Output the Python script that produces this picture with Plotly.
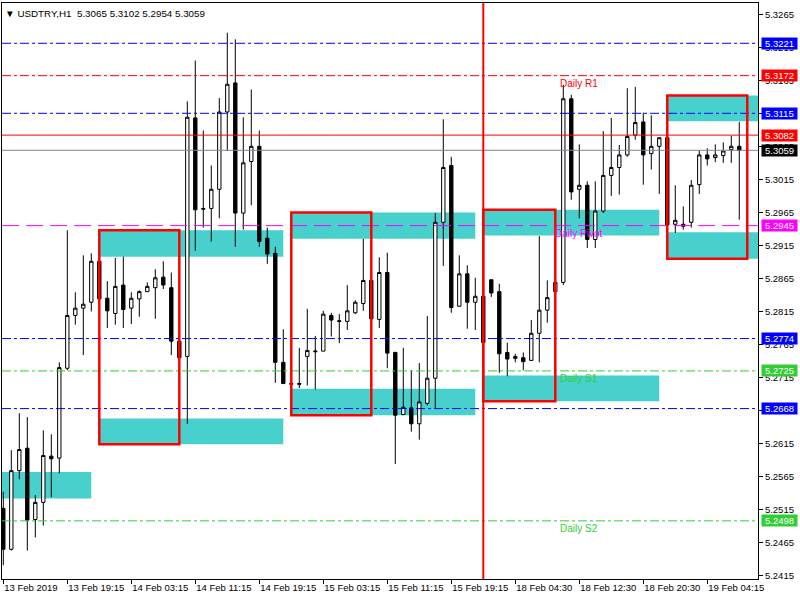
import plotly.graph_objects as go

# ---------------- data ----------------
bar_index = list(range(93))
opens = [5.2517, 5.2455, 5.2574, 5.2608, 5.2500, 5.2526, 5.2596, 5.2593, 5.2729, 5.2809,
         5.2820, 5.2829, 5.2891, 5.2835, 5.2812, 5.2855, 5.2820, 5.2834, 5.2845, 5.2851,
         5.2867, 5.2851, 5.2770, 5.2747, 5.3108, 5.2971, 5.2971, 5.3000, 5.3117, 5.3161,
         5.2964, 5.3042, 5.3065, 5.2926, 5.2903, 5.2738, 5.2706, 5.2706, 5.2747, 5.2754,
         5.2755, 5.2809, 5.2801, 5.2800, 5.2813, 5.2827, 5.2862, 5.2803, 5.2874, 5.2753,
         5.2659, 5.2669, 5.2645, 5.2676, 5.2714, 5.2950, 5.3036, 5.2823, 5.2872, 5.2829,
         5.2838, 5.2863, 5.2845, 5.2753, 5.2744, 5.2745, 5.2741, 5.2782, 5.2817, 5.2845,
         5.2859, 5.3137, 5.3000, 5.3006, 5.2924, 5.2967, 5.3021, 5.3033, 5.3052, 5.3082,
         5.3102, 5.3054, 5.3065, 5.3078, 5.2947, 5.2947, 5.2950, 5.3007, 5.3052, 5.3048,
         5.3051, 5.3060, 5.3065]
highs = [5.2542, 5.2605, 5.2661, 5.2655, 5.2537, 5.2635, 5.2629, 5.2738, 5.2938, 5.2844,
         5.2900, 5.2903, 5.2892, 5.2861, 5.2896, 5.2898, 5.2844, 5.2847, 5.2859, 5.2879,
         5.2891, 5.2874, 5.2771, 5.3133, 5.3195, 5.3089, 5.3036, 5.3138, 5.3237, 5.3227,
         5.3109, 5.3151, 5.3089, 5.2942, 5.2913, 5.2788, 5.2707, 5.2760, 5.2819, 5.2778,
         5.2816, 5.2813, 5.2811, 5.2855, 5.2832, 5.2925, 5.2863, 5.2897, 5.2904, 5.2754,
         5.2760, 5.2726, 5.2737, 5.2808, 5.2964, 5.3106, 5.3049, 5.2900, 5.2885, 5.2866,
         5.2839, 5.2863, 5.2857, 5.2768, 5.2751, 5.2753, 5.2802, 5.2929, 5.2862, 5.2861,
         5.3158, 5.3143, 5.3068, 5.3012, 5.3012, 5.3088, 5.3108, 5.3067, 5.3153, 5.3155,
         5.3116, 5.3112, 5.3079, 5.3079, 5.3006, 5.2974, 5.3014, 5.3059, 5.3062, 5.3068,
         5.3071, 5.3081, 5.3102]
lows = [5.2431, 5.2453, 5.2561, 5.2453, 5.2473, 5.2491, 5.2534, 5.2570, 5.2726, 5.2795,
        5.2749, 5.2815, 5.2833, 5.2790, 5.2795, 5.2790, 5.2796, 5.2807, 5.2845, 5.2804,
        5.2849, 5.2749, 5.2744, 5.2645, 5.2907, 5.2942, 5.2921, 5.2956, 5.3058, 5.2913,
        5.2939, 5.2976, 5.2913, 5.2887, 5.2707, 5.2705, 5.2705, 5.2699, 5.2703, 5.2697,
        5.2755, 5.2777, 5.2767, 5.2787, 5.2811, 5.2816, 5.2803, 5.2790, 5.2729, 5.2584,
        5.2658, 5.2633, 5.2621, 5.2673, 5.2669, 5.2884, 5.2813, 5.2822, 5.2789, 5.2787,
        5.2767, 5.2837, 5.2722, 5.2717, 5.2738, 5.2726, 5.2740, 5.2738, 5.2798, 5.2845,
        5.2855, 5.2984, 5.2956, 5.2911, 5.2911, 5.2964, 5.2990, 5.2992, 5.3049, 5.3075,
        5.3007, 5.3030, 5.2993, 5.2945, 5.2934, 5.2939, 5.2942, 5.2993, 5.3036, 5.3041,
        5.3040, 5.3040, 5.2954]
closes = [5.2455, 5.2574, 5.2606, 5.2499, 5.2526, 5.2597, 5.2592, 5.2730, 5.2809, 5.2820,
          5.2826, 5.2891, 5.2834, 5.2816, 5.2853, 5.2818, 5.2835, 5.2845, 5.2853, 5.2866,
          5.2855, 5.2770, 5.2745, 5.3109, 5.2969, 5.2970, 5.3000, 5.3117, 5.3159, 5.2964,
          5.3040, 5.3065, 5.2921, 5.2902, 5.2738, 5.2706, 5.2705, 5.2705, 5.2756, 5.2755,
          5.2811, 5.2802, 5.2800, 5.2816, 5.2829, 5.2862, 5.2804, 5.2874, 5.2752, 5.2658,
          5.2670, 5.2645, 5.2678, 5.2714, 5.2950, 5.3033, 5.2821, 5.2872, 5.2829, 5.2838,
          5.2768, 5.2843, 5.2751, 5.2743, 5.2747, 5.2739, 5.2782, 5.2817, 5.2836, 5.2859,
          5.3137, 5.2996, 5.3006, 5.2924, 5.2967, 5.3021, 5.3033, 5.3052, 5.3080, 5.3101,
          5.3052, 5.3065, 5.3078, 5.2946, 5.2953, 5.2944, 5.3006, 5.3052, 5.3046, 5.3052,
          5.3058, 5.3065, 5.3059]

tick_index = [0, 8, 16, 24, 32, 40, 48, 56, 64, 72, 80, 88]
tick_labels = ["13 Feb 2019", "13 Feb 19:15", "14 Feb 03:15", "14 Feb 11:15",
               "14 Feb 19:15", "15 Feb 03:15", "15 Feb 11:15", "15 Feb 19:15",
               "18 Feb 04:30", "18 Feb 12:30", "18 Feb 20:30", "19 Feb 04:15"]

level_prices = [5.3221, 5.3172, 5.3115, 5.3082, 5.3059, 5.2945, 5.2774, 5.2725, 5.2668, 5.2498]
level_colors = ["#0000FF", "#FF0000", "#0000FF", "#FF0000", "#778899",
                "#FF00FF", "#0000FF", "#32CD32", "#0000FF", "#32CD32"]
level_label_bg = ["#0000FF", "#FF0000", "#0000FF", "#FF0000", "#000000",
                  "#FF00FF", "#0000FF", "#32CD32", "#0000FF", "#32CD32"]
level_dash = ["9px,3px,3px,3px", "9px,3px,3px,3px", "9px,3px,3px,3px", "solid", "solid",
              "17px,7px", "9px,3px,3px,3px", "9px,3px,3px,3px", "9px,3px,3px,3px",
              "9px,3px,3px,3px"]

pivot_names = ["Daily R1", "Daily Pivot", "Daily S1", "Daily S2"]
pivot_prices = [5.3172, 5.2945, 5.2725, 5.2498]
pivot_colors = ["#FF0000", "#FF00FF", "#32CD32", "#32CD32"]
pivot_x = [69.5, 68.85, 69.5, 69.5]

zone_start = [12, 36, 60, 83]
zone_end = [22, 46, 69, 93]
zone_top = [5.2938, 5.2965, 5.2969, 5.3142]
zone_bottom = [5.2614, 5.2658, 5.2679, 5.2895]

box_start = [-3, 12, 12, 36, 36, 60, 60, 83, 83]
box_end = [11, 35, 35, 59, 59, 82, 82, 97, 97]
box_top = [5.2572, 5.2938, 5.2653, 5.2965, 5.2698, 5.2969, 5.2718, 5.3142, 5.2935]
box_bottom = [5.2532, 5.2898, 5.2614, 5.2925, 5.2658, 5.2930, 5.2679, 5.3103, 5.2895]

separator_bar = 60
title_text = "\u25BC USDTRY,H1\u00a0\u00a05.3065 5.3102 5.2954 5.3059"

FONT = "Liberation Sans, Arial, sans-serif"

# ---------------- figure ----------------
fig = go.Figure()
fig.add_trace(go.Candlestick(
    x=bar_index, open=opens, high=highs, low=lows, close=closes,
    increasing=dict(line=dict(color="black", width=1), fillcolor="white"),
    decreasing=dict(line=dict(color="black", width=1), fillcolor="black"),
    whiskerwidth=0, showlegend=False, hoverinfo="skip",
))

shapes = []
for x0, x1, t, b in zip(box_start, box_end, box_top, box_bottom):
    shapes.append(dict(type="rect", xref="x", yref="y", x0=x0, x1=x1, y0=b, y1=t,
                       fillcolor="#48D1CC", line=dict(width=0), layer="below"))
for p, c, d in zip(level_prices, level_colors, level_dash):
    shapes.append(dict(type="line", xref="paper", yref="y", x0=0, x1=1, y0=p, y1=p,
                       line=dict(color=c, width=1, dash=d), layer="above"))
for x0, x1, t, b in zip(zone_start, zone_end, zone_top, zone_bottom):
    shapes.append(dict(type="rect", xref="x", yref="y", x0=x0, x1=x1, y0=b, y1=t,
                       fillcolor="rgba(0,0,0,0)", line=dict(color="#FF0000", width=2.5),
                       layer="above"))
shapes.append(dict(type="line", xref="x", yref="paper", x0=separator_bar, x1=separator_bar,
                   y0=0, y1=1, line=dict(color="#FF0000", width=2), layer="above"))

annotations = []
for p, bg in zip(level_prices, level_label_bg):
    annotations.append(dict(xref="paper", yref="y", x=1, y=p, xanchor="left", yanchor="middle",
                            xshift=3, text=f"{p:.4f}", showarrow=False, bgcolor=bg,
                            width=35, height=11, borderpad=0, align="center",
                            font=dict(family=FONT, size=9.5, color="white")))
for name, p, c, xp in zip(pivot_names, pivot_prices, pivot_colors, pivot_x):
    annotations.append(dict(xref="x", yref="y", x=xp, y=p, xanchor="left", yanchor="top",
                            text=name, showarrow=False, borderpad=0, yshift=-1,
                            font=dict(family=FONT, size=10, color=c)))
annotations.append(dict(xref="paper", yref="paper", x=0, y=1, xanchor="left", yanchor="top",
                        xshift=1, yshift=-3, text=title_text, showarrow=False,
                        font=dict(family=FONT, size=9.8, color="black")))

fig.update_layout(
    width=800, height=600,
    margin=dict(l=2, r=42, t=3, b=21, autoexpand=False),
    paper_bgcolor="white", plot_bgcolor="white",
    showlegend=False, boxgap=0.4,
    shapes=shapes, annotations=annotations,
    font=dict(family=FONT, size=9.5, color="black"),
    xaxis=dict(range=[-0.1625, 94.34], rangeslider=dict(visible=False),
               tickmode="array", tickvals=tick_index, ticktext=tick_labels, tickangle=0,
               ticks="outside", ticklen=4, tickcolor="black", ticklabelposition="outside right",
               showline=True, linecolor="black", linewidth=1, mirror=True, automargin=False,
               showgrid=False, zeroline=False, tickfont=dict(size=9.5)),
    yaxis=dict(range=[5.2410, 5.3282], side="right", tick0=5.2415, dtick=0.005,
               tickformat=".4f", ticks="outside", ticklen=4, tickcolor="black",
               showline=True, linecolor="black", linewidth=1, mirror=True, automargin=False,
               showgrid=False, zeroline=False, tickfont=dict(size=9.5)),
)

fig.write_html("out.html", config={"displayModeBar": False},
               post_script="document.body.style.margin='0px';")
